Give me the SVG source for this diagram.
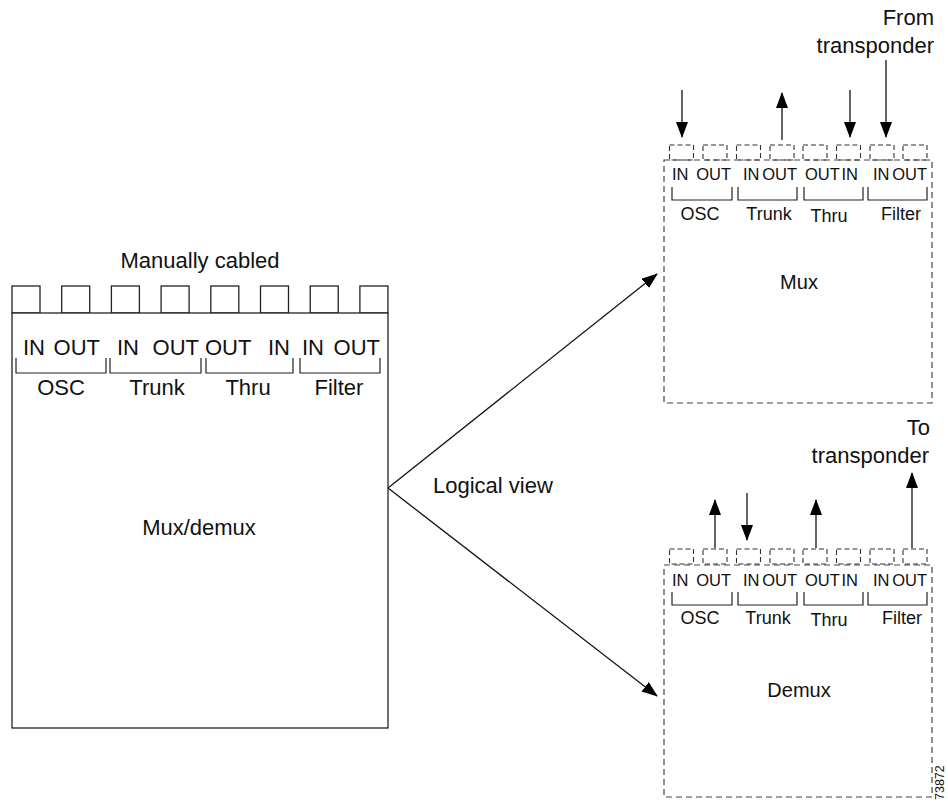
<svg xmlns="http://www.w3.org/2000/svg" width="948" height="806" viewBox="0 0 948 806">
<style>
text{font-family:"Liberation Sans",Arial,sans-serif;fill:#111}
.big{font-size:22px}
.sm{font-size:16.5px}
.lb{font-size:18px}
.nm{font-size:20px}
.solid{fill:#fff;stroke:#222;stroke-width:1.3}
.dash{fill:none;stroke:#444;stroke-width:1.2;stroke-dasharray:6 4}
.dsq{fill:none;stroke:#333;stroke-width:1.1;stroke-dasharray:5 3}
.br{fill:none;stroke:#222;stroke-width:1.2}
.ln{fill:none;stroke:#111;stroke-width:1.3}
</style>
<defs>
<marker id="ah" viewBox="0 0 16 12" refX="15" refY="6" markerWidth="16" markerHeight="12" markerUnits="userSpaceOnUse" orient="auto">
<path d="M0,0 L16,6 L0,12 z" fill="#000"/>
</marker>
</defs>

<g id="muxdemux">
<text class="big" x="200" y="268" text-anchor="middle">Manually cabled</text>
<rect class="solid" x="12" y="286" width="28" height="27"/>
<rect class="solid" x="61.7" y="286" width="28" height="27"/>
<rect class="solid" x="111.4" y="286" width="28" height="27"/>
<rect class="solid" x="161.1" y="286" width="28" height="27"/>
<rect class="solid" x="210.8" y="286" width="28" height="27"/>
<rect class="solid" x="260.5" y="286" width="28" height="27"/>
<rect class="solid" x="310.2" y="286" width="28" height="27"/>
<rect class="solid" x="359.9" y="286" width="28" height="27"/>
<rect class="solid" x="12" y="313" width="376" height="415"/>
<text class="big" x="23" y="355">IN</text>
<text class="big" x="100" y="355" text-anchor="end">OUT</text>
<text class="big" x="117" y="355">IN</text>
<text class="big" x="199" y="355" text-anchor="end">OUT</text>
<text class="big" x="205" y="355">OUT</text>
<text class="big" x="290" y="355" text-anchor="end">IN</text>
<text class="big" x="302" y="355">IN</text>
<text class="big" x="380" y="355" text-anchor="end">OUT</text>
<path class="br" d="M16,358 V373 H106 V358 M110,358 V373 H201 V358 M206,358 V373 H293 V358 M300,358 V373 H380 V358"/>
<text class="big" x="61" y="395" text-anchor="middle">OSC</text>
<text class="big" x="157" y="395" text-anchor="middle">Trunk</text>
<text class="big" x="248" y="395" text-anchor="middle">Thru</text>
<text class="big" x="339" y="395" text-anchor="middle">Filter</text>
<text class="big" x="199" y="535" text-anchor="middle">Mux/demux</text>
</g>

<g id="mux">
<rect class="dsq" x="669.5" y="145" width="24" height="15"/>
<rect class="dsq" x="703" y="145" width="24" height="15"/>
<rect class="dsq" x="736.5" y="145" width="24" height="15"/>
<rect class="dsq" x="770" y="145" width="24" height="15"/>
<rect class="dsq" x="803" y="145" width="24" height="15"/>
<rect class="dsq" x="836.5" y="145" width="24" height="15"/>
<rect class="dsq" x="870" y="145" width="24" height="15"/>
<rect class="dsq" x="903" y="145" width="24" height="15"/>
<rect class="dash" x="664" y="160" width="268" height="243"/>
<text class="sm" x="672" y="180">IN</text>
<text class="sm" x="731" y="180" text-anchor="end">OUT</text>
<text class="sm" x="743" y="180">IN</text>
<text class="sm" x="797" y="180" text-anchor="end">OUT</text>
<text class="sm" x="805" y="180">OUT</text>
<text class="sm" x="858" y="180" text-anchor="end">IN</text>
<text class="sm" x="873" y="180">IN</text>
<text class="sm" x="927" y="180" text-anchor="end">OUT</text>
<path class="br" d="M672,187 V200 H732 V187 M738,187 V200 H797 V187 M804,187 V200 H863 V187 M868,187 V200 H927 V187"/>
<text class="lb" x="700" y="220" text-anchor="middle">OSC</text>
<text class="lb" x="769" y="220" text-anchor="middle">Trunk</text>
<text class="lb" x="829" y="222" text-anchor="middle">Thru</text>
<text class="lb" x="901" y="220" text-anchor="middle">Filter</text>
<text class="nm" x="799" y="289" text-anchor="middle">Mux</text>
<text class="big" x="934" y="25" text-anchor="end">From</text>
<text class="big" x="934" y="53" text-anchor="end">transponder</text>
</g>

<g id="demux">
<rect class="dsq" x="669.5" y="549" width="24" height="15"/>
<rect class="dsq" x="703" y="549" width="24" height="15"/>
<rect class="dsq" x="736.5" y="549" width="24" height="15"/>
<rect class="dsq" x="770" y="549" width="24" height="15"/>
<rect class="dsq" x="803" y="549" width="24" height="15"/>
<rect class="dsq" x="836.5" y="549" width="24" height="15"/>
<rect class="dsq" x="870" y="549" width="24" height="15"/>
<rect class="dsq" x="903" y="549" width="24" height="15"/>
<rect class="dash" x="664" y="565" width="268" height="232"/>
<text class="sm" x="672" y="586">IN</text>
<text class="sm" x="731" y="586" text-anchor="end">OUT</text>
<text class="sm" x="743" y="586">IN</text>
<text class="sm" x="797" y="586" text-anchor="end">OUT</text>
<text class="sm" x="805" y="586">OUT</text>
<text class="sm" x="858" y="586" text-anchor="end">IN</text>
<text class="sm" x="873" y="586">IN</text>
<text class="sm" x="927" y="586" text-anchor="end">OUT</text>
<path class="br" d="M672,592 V605 H732 V592 M738,592 V605 H797 V592 M804,592 V605 H863 V592 M868,592 V605 H927 V592"/>
<text class="lb" x="700" y="624" text-anchor="middle">OSC</text>
<text class="lb" x="768" y="624" text-anchor="middle">Trunk</text>
<text class="lb" x="829" y="626" text-anchor="middle">Thru</text>
<text class="lb" x="902" y="624" text-anchor="middle">Filter</text>
<text class="nm" x="799" y="697" text-anchor="middle">Demux</text>
<text class="big" x="930" y="435" text-anchor="end">To</text>
<text class="big" x="929" y="463" text-anchor="end">transponder</text>
<text x="944" y="800" font-size="12.5" transform="rotate(-90 944 800)">73872</text>
</g>

<g id="connectors">
<line class="ln" x1="388" y1="488" x2="657" y2="274" marker-end="url(#ah)"/>
<line class="ln" x1="388" y1="488" x2="657" y2="696" marker-end="url(#ah)"/>
<line class="ln" x1="682" y1="90" x2="682" y2="137" marker-end="url(#ah)"/>
<line class="ln" x1="782" y1="140" x2="782" y2="93" marker-end="url(#ah)"/>
<line class="ln" x1="850" y1="90" x2="850" y2="137" marker-end="url(#ah)"/>
<line class="ln" x1="886" y1="60" x2="886" y2="137" marker-end="url(#ah)"/>
<line class="ln" x1="715" y1="548" x2="715" y2="500" marker-end="url(#ah)"/>
<line class="ln" x1="747" y1="493" x2="747" y2="540" marker-end="url(#ah)"/>
<line class="ln" x1="816" y1="548" x2="816" y2="500" marker-end="url(#ah)"/>
<line class="ln" x1="912" y1="548" x2="912" y2="473" marker-end="url(#ah)"/>
<text class="big" x="433" y="493">Logical view</text>
</g>
</svg>
